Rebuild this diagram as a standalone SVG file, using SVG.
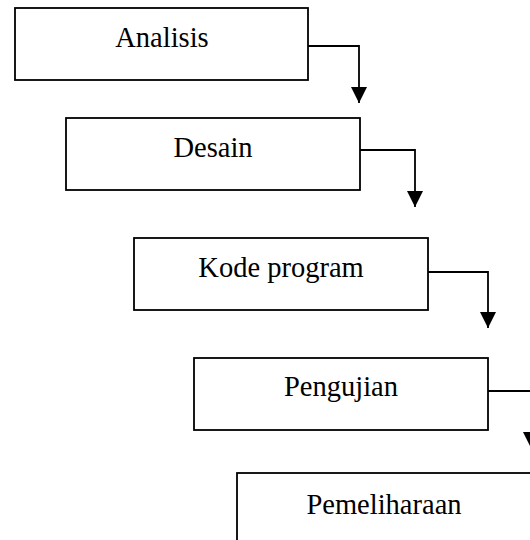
<svg xmlns="http://www.w3.org/2000/svg" width="530" height="540" viewBox="0 0 530 540">
  <style>
    .box { fill: #ffffff; stroke: #000000; stroke-width: 1.8; }
    .lbl { font-family: "Liberation Serif", "Times New Roman", serif; font-size: 28.5px; fill: #000000; text-anchor: middle; }
    .conn { fill: none; stroke: #000000; stroke-width: 1.8; }
  </style>
  <defs>
    <marker id="arrow" markerUnits="userSpaceOnUse" markerWidth="16" markerHeight="17" refX="8" refY="16" orient="0" viewBox="0 0 16 17">
      <polygon points="0,0 16,0 8,16" fill="#000000"/>
    </marker>
  </defs>
  <rect width="530" height="540" fill="#ffffff"/>
  <g id="connectors">
    <path class="conn" d="M308,46 H359 V103" marker-end="url(#arrow)"/>
    <path class="conn" d="M360,150 H415 V207" marker-end="url(#arrow)"/>
    <path class="conn" d="M428,272 H488 V328" marker-end="url(#arrow)"/>
    <path class="conn" d="M488,391 H531 V448" marker-end="url(#arrow)"/>
  </g>
  <g id="analisis">
    <rect class="box" x="15" y="8" width="293" height="72"/>
    <text class="lbl" x="162" y="47">Analisis</text>
  </g>
  <g id="desain">
    <rect class="box" x="66" y="118" width="294" height="72"/>
    <text class="lbl" x="213" y="157">Desain</text>
  </g>
  <g id="kode-program">
    <rect class="box" x="134" y="238" width="294" height="72"/>
    <text class="lbl" x="281" y="277">Kode program</text>
  </g>
  <g id="pengujian">
    <rect class="box" x="194" y="358" width="294" height="72"/>
    <text class="lbl" x="341" y="396">Pengujian</text>
  </g>
  <g id="pemeliharaan">
    <rect class="box" x="237" y="473" width="294" height="72"/>
    <text class="lbl" x="384" y="514">Pemeliharaan</text>
  </g>
</svg>
